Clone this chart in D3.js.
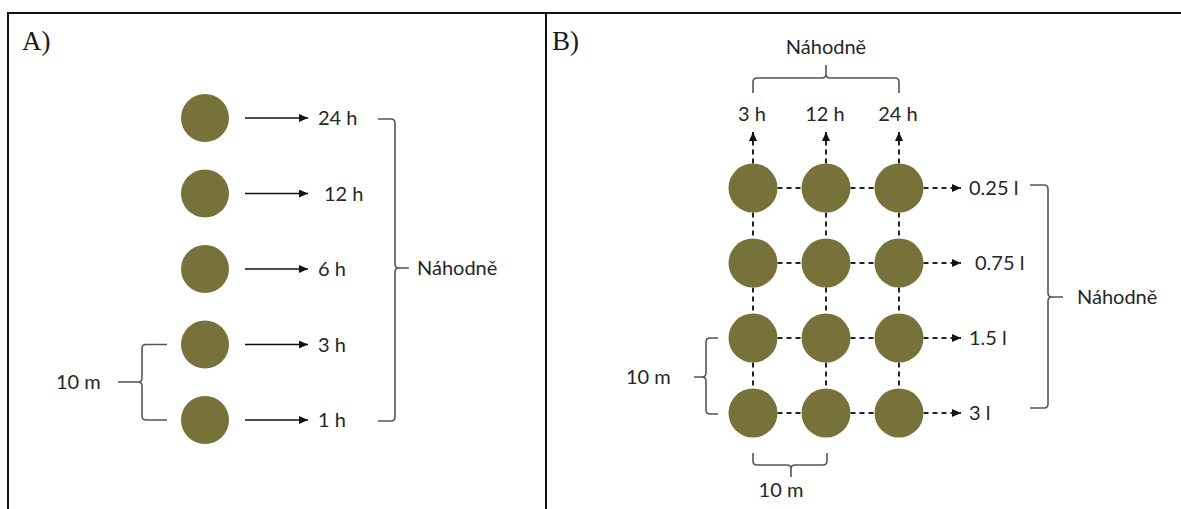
<!DOCTYPE html>
<html><head><meta charset="utf-8">
<script src="https://cdn.jsdelivr.net/npm/d3@7"></script>
<style>body{margin:0;background:#fff}svg{display:block}</style>
</head><body>
<script>
// ---- data ----
const panelATimes = ["24 h", "12 h", "6 h", "3 h", "1 h"];
const panelBTimes = ["3 h", "12 h", "24 h"];
const panelBVolumes = ["0.25 l", "0.75 l", "1.5 l", "3 l"];
const randomLabel = "Náhodně";
const spacingLabel = "10 m";
const panelLabels = ["A)", "B)"];

const W = 1181, H = 509;
const svg = d3.select("body").append("svg").attr("width", W).attr("height", H);
const defs = svg.append("defs");
function marker(id, w, h) {
  defs.append("marker").attr("id", id).attr("viewBox", `0 0 ${w} ${h}`)
    .attr("refX", w).attr("refY", h / 2).attr("markerWidth", w).attr("markerHeight", h)
    .attr("markerUnits", "userSpaceOnUse").attr("orient", "auto")
    .append("path").attr("d", `M0,0L${w},${h/2}L0,${h}Z`).attr("fill", "#111");
}
marker("ahA", 9, 8);
marker("ahB", 9, 8);

const olive = "#77723a";
const font = "Lato, 'Open Sans', sans-serif";
const fs = 20;
const braceColor = "#555";
const txt = "#262626";

// frame
svg.append("line").attr("x1", 8).attr("x2", W).attr("y1", 13).attr("y2", 13).attr("stroke", "#111").attr("stroke-width", 2);
svg.append("line").attr("x1", 8).attr("x2", 8).attr("y1", 12).attr("y2", H).attr("stroke", "#111").attr("stroke-width", 2);
svg.append("line").attr("x1", 546).attr("x2", 546).attr("y1", 12).attr("y2", H).attr("stroke", "#111").attr("stroke-width", 2);

svg.selectAll("text.panel").data(panelLabels).join("text").attr("class", "panel")
  .attr("x", (d, i) => i ? 552 : 22).attr("y", 50)
  .attr("font-family", "'Liberation Serif', serif").attr("font-size", 27).attr("fill", "#1a1a1a")
  .text(d => d);

// brace helpers
function vBrace(x, y0, y1, dir, len, tip, ym) {
  const m = ym === undefined ? (y0 + y1) / 2 : ym;
  const r = 4;
  const xe = x - dir * len;
  return `M${xe},${y0} L${x - dir * r},${y0} Q${x},${y0} ${x},${y0 + r} L${x},${m - r} Q${x},${m} ${x + dir * r},${m} L${x + dir * tip},${m}` +
    ` M${x + dir * r},${m} Q${x},${m} ${x},${m + r} L${x},${y1 - r} Q${x},${y1} ${x - dir * r},${y1} L${xe},${y1}`;
}
function hBrace(y, x0, x1, dir, len, tip, xm) {
  const m = xm === undefined ? (x0 + x1) / 2 : xm;
  const r = 4;
  const ye = y - dir * len;
  return `M${x0},${ye} L${x0},${y - dir * r} Q${x0},${y} ${x0 + r},${y} L${m - r},${y} Q${m},${y} ${m},${y + dir * r} L${m},${y + dir * tip}` +
    ` M${m},${y + dir * r} Q${m},${y} ${m + r},${y} L${x1 - r},${y} Q${x1},${y} ${x1},${y - dir * r} L${x1},${ye}`;
}
function brace(d) {
  svg.append("path").attr("d", d).attr("fill", "none").attr("stroke", braceColor).attr("stroke-width", 1.6);
}

// ---- Panel A ----
const yA = d3.scalePoint().domain(panelATimes).range([118, 420]);
const xA = 205, rA = 24;
const gA = svg.append("g");
gA.selectAll("circle").data(panelATimes).join("circle")
  .attr("cx", xA).attr("cy", d => yA(d)).attr("r", rA).attr("fill", olive);
gA.selectAll("line.arr").data(panelATimes).join("line").attr("class", "arr")
  .attr("x1", 245).attr("x2", 308).attr("y1", d => yA(d)).attr("y2", d => yA(d))
  .attr("stroke", "#111").attr("stroke-width", 1.6).attr("marker-end", "url(#ahA)");
const nudgeA = {"12 h": 6};
gA.selectAll("text.lab").data(panelATimes).join("text").attr("class", "lab")
  .attr("x", d => 318 + (nudgeA[d] || 0)).attr("y", d => yA(d) + 7)
  .attr("font-family", font).attr("font-size", fs).attr("fill", txt).text(d => d);

brace(vBrace(395, yA(panelATimes[0]) + 1, yA(panelATimes[4]) + 1, 1, 17, 14, 268));
gA.append("text").attr("x", 417).attr("y", 275).attr("font-family", font).attr("font-size", fs).attr("fill", txt).text(randomLabel);

brace(vBrace(142, yA(panelATimes[3]), yA(panelATimes[4]), -1, 25, 24, 382));
gA.append("text").attr("x", 56).attr("y", 389).attr("font-family", font).attr("font-size", fs).attr("fill", txt).text(spacingLabel);

// ---- Panel B ----
const xB = d3.scalePoint().domain(panelBTimes).range([753, 899]);
const yB = d3.scalePoint().domain(panelBVolumes).range([188, 413]);
const rB = 24.5;
const gB = svg.append("g");
const dash = {stroke: "#222", "stroke-width": 2, "stroke-dasharray": "5,4"};
function dl(x1, y1, x2, y2, mk) {
  const l = gB.append("line").attr("x1", x1).attr("y1", y1).attr("x2", x2).attr("y2", y2);
  for (const k in dash) l.attr(k, dash[k]);
  if (mk) l.attr("marker-end", "url(#ahB)");
  return l;
}
panelBVolumes.forEach(v => {
  for (let i = 0; i < panelBTimes.length - 1; i++) dl(xB(panelBTimes[i]) + rB, yB(v), xB(panelBTimes[i + 1]) - rB, yB(v));
  dl(xB(panelBTimes[2]) + rB, yB(v), 961, yB(v), true);
});
panelBTimes.forEach(t => {
  for (let j = 0; j < panelBVolumes.length - 1; j++) dl(xB(t), yB(panelBVolumes[j]) + rB, xB(t), yB(panelBVolumes[j + 1]) - rB);
  dl(xB(t), yB(panelBVolumes[0]) - rB, xB(t), 132, true);
});
const cells = panelBTimes.flatMap(t => panelBVolumes.map(v => ({t, v})));
gB.selectAll("circle").data(cells).join("circle")
  .attr("cx", d => xB(d.t)).attr("cy", d => yB(d.v)).attr("r", rB).attr("fill", olive);

gB.selectAll("text.tlab").data(panelBTimes).join("text").attr("class", "tlab")
  .attr("x", d => xB(d) - 1).attr("y", 121).attr("text-anchor", "middle")
  .attr("font-family", font).attr("font-size", fs).attr("fill", txt).text(d => d);
const nudgeB = {"0.75 l": 6};
gB.selectAll("text.vlab").data(panelBVolumes).join("text").attr("class", "vlab")
  .attr("x", d => 969 + (nudgeB[d] || 0)).attr("y", d => yB(d) + 7)
  .attr("font-family", font).attr("font-size", fs).attr("fill", txt).text(d => d);

brace(hBrace(78, xB(panelBTimes[0]), xB(panelBTimes[2]), -1, 15, 13, 826));
gB.append("text").attr("x", 826).attr("y", 54).attr("text-anchor", "middle").attr("font-family", font).attr("font-size", fs).attr("fill", txt).text(randomLabel);

brace(vBrace(1048, yB(panelBVolumes[0]) - 3, yB(panelBVolumes[3]) - 5, 1, 18, 15, 297));
gB.append("text").attr("x", 1077).attr("y", 304).attr("font-family", font).attr("font-size", fs).attr("fill", txt).text(randomLabel);

brace(vBrace(706, yB(panelBVolumes[2]), yB(panelBVolumes[3]) + 1, -1, 12, 12, 377));
gB.append("text").attr("x", 626).attr("y", 384).attr("font-family", font).attr("font-size", fs).attr("fill", txt).text(spacingLabel);

brace(hBrace(465, xB(panelBTimes[0]), xB(panelBTimes[1]) + 1, 1, 12, 12, 791));
gB.append("text").attr("x", 781).attr("y", 497).attr("text-anchor", "middle").attr("font-family", font).attr("font-size", fs).attr("fill", txt).text(spacingLabel);
</script>
</body></html>
